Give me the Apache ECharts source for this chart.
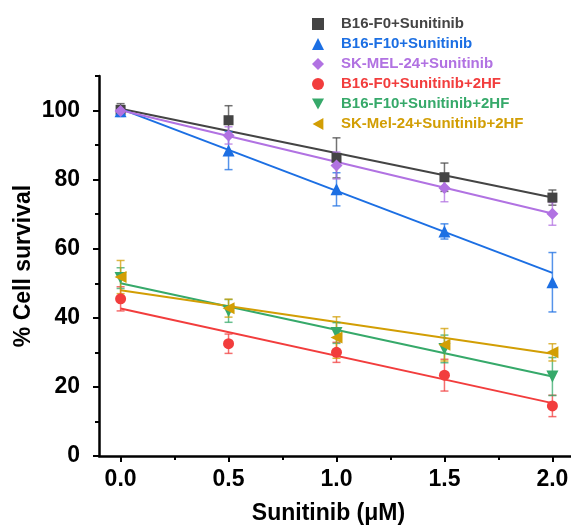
<!DOCTYPE html>
<html><head><meta charset="utf-8">
<script src="https://cdn.jsdelivr.net/npm/echarts@6/dist/echarts.min.js"></script>
<style>html,body{margin:0;padding:0;background:#fff}#c{width:571px;height:525px}</style>
</head><body><div id="c"></div>
<script>
const doses = [0, 0.5, 1.0, 1.5, 2.0];
const names = ['B16-F0+Sunitinib','B16-F10+Sunitinib','SK-MEL-24+Sunitinib','B16-F0+Sunitinib+2HF','B16-F10+Sunitinib+2HF','SK-Mel-24+Sunitinib+2HF'];
const mean1 = [100.2, 97.2, 86.3, 80.7, 74.8];
const err1  = [1.8, 4.2, 5.8, 4.1, 2.2];
const mean2 = [99.8, 88.4, 77.2, 65.0, 50.3];
const err2  = [1.5, 5.5, 4.8, 2.2, 8.6];
const mean3 = [99.9, 92.8, 84.1, 77.6, 70.1];
const err3  = [1.5, 2.5, 3.9, 4.0, 3.3];
const mean4 = [45.5, 32.5, 30.0, 23.4, 14.5];
const err4  = [3.5, 2.8, 2.9, 4.6, 3.1];
const mean5 = [51.5, 42.0, 35.6, 31.0, 23.0];
const err5  = [3.0, 3.3, 3.0, 4.0, 5.5];
const mean6 = [51.8, 42.8, 34.3, 32.2, 30.0];
const err6  = [4.8, 2.6, 6.0, 4.7, 2.5];
// fitted line values read at dose 0 and dose 2.0
const fit1 = [100.5, 74.8];
const fit2 = [100.5, 53.0];
const fit3 = [100.1, 70.2];
const fit4 = [42.7, 15.3];
const fit5 = [50.0, 23.0];
const fit6 = [48.0, 29.6];
const xTicks = [0, 0.5, 1.0, 1.5, 2.0];
const xMinorTicks = [0.25, 0.75, 1.25, 1.75];
const yTicks = [0, 20, 40, 60, 80, 100];
const yMinorTicks = [10, 30, 50, 70, 90, 110];

const means = [mean1, mean2, mean3, mean4, mean5, mean6];
const errs = [err1, err2, err3, err4, err5, err6];
const fits = [fit1, fit2, fit3, fit4, fit5, fit6];
const colors = ['#444444', '#1c6fe3', '#b172e2', '#f23d3d', '#36a96a', '#d29e04'];
const symbols = ['rect', 'triangle', 'diamond', 'circle', 'path://M0,0 L10,0 L5,9 Z', 'path://M9,0 L9,10 L0,5 Z'];
const sizes = [10, 12, 12, 11, 12, 12];

const font = '"Liberation Sans", Arial, sans-serif';
const series = [];
for (let i = 0; i < 6; i++) {
  series.push({
    type: 'line', name: names[i] + ' fit', xAxisIndex: 0, yAxisIndex: 0,
    data: [[doses[0], fits[i][0]], [doses[doses.length - 1], fits[i][1]]],
    symbol: 'none', lineStyle: { color: colors[i], width: 2 }, z: 2, silent: true
  });
  series.push({
    type: 'custom', name: names[i] + ' err', xAxisIndex: 0, yAxisIndex: 0,
    data: doses.map((d, k) => [d, means[i][k] - errs[i][k], means[i][k] + errs[i][k]]),
    encode: { x: 0, y: [1, 2] }, z: 3, silent: true,
    renderItem: (function (col) {
      return function (params, api) {
        const lo = api.coord([api.value(0), api.value(1)]);
        const hi = api.coord([api.value(0), api.value(2)]);
        const c = 4;
        const st = { stroke: col, lineWidth: 1.5, opacity: 0.75 };
        return { type: 'group', children: [
          { type: 'line', shape: { x1: lo[0], y1: lo[1], x2: hi[0], y2: hi[1] }, style: st },
          { type: 'line', shape: { x1: lo[0] - c, y1: lo[1], x2: lo[0] + c, y2: lo[1] }, style: st },
          { type: 'line', shape: { x1: hi[0] - c, y1: hi[1], x2: hi[0] + c, y2: hi[1] }, style: st }
        ]};
      };
    })(colors[i])
  });
  series.push({
    type: 'scatter', name: names[i], xAxisIndex: 0, yAxisIndex: 0,
    data: doses.map((d, k) => [d, means[i][k]]),
    symbol: symbols[i], symbolSize: sizes[i],
    itemStyle: { color: colors[i], opacity: 1 }, z: 4
  });
}

const chart = echarts.init(document.getElementById('c'), null, { renderer: 'canvas' });
chart.setOption({
  animation: false,
  backgroundColor: '#ffffff',
  grid: { left: 99, right: -3, top: 76, bottom: 69, containLabel: false, outerBoundsMode: 'none' },
  legend: {
    orient: 'vertical', left: 307, top: 11, itemWidth: 12, itemHeight: 12, itemGap: 4,
    data: names.map((n, i) => ({ name: n, icon: symbols[i], textStyle: { color: colors[i] } })),
    textStyle: { fontFamily: font, fontWeight: 'bold', fontSize: 15, lineHeight: 16, padding: [0, 0, 0, 12] },
    selectedMode: false
  },
  xAxis: [{
    type: 'value', min: -0.1, max: 2.1, position: 'bottom',
    name: 'Sunitinib (μM)', nameLocation: 'middle', nameGap: 46,
    nameTextStyle: { fontFamily: font, fontWeight: 'bold', fontSize: 23, color: '#000', padding: [0, 16, 0, 0] },
    axisLine: { show: true, onZero: false, lineStyle: { color: '#000', width: 2.5 } },
    axisTick: { show: true, length: 6, lineStyle: { color: '#000', width: 2 }, customValues: xTicks },
    axisLabel: { fontFamily: font, fontWeight: 'bold', fontSize: 23, color: '#000', margin: 12,
      customValues: xTicks, formatter: v => v.toFixed(1) },
    splitLine: { show: false }
  }, {
    type: 'value', min: -0.1, max: 2.1, position: 'bottom',
    axisLine: { show: false, onZero: false },
    axisTick: { show: true, length: 4, lineStyle: { color: '#000', width: 2 }, customValues: xMinorTicks },
    axisLabel: { show: false }, splitLine: { show: false }
  }],
  yAxis: [{
    type: 'value', min: 0, max: 110, position: 'left',
    name: '% Cell survival', nameLocation: 'middle', nameGap: 64, nameRotate: 90, nameMoveOverlap: false,
    nameTextStyle: { fontFamily: font, fontWeight: 'bold', fontSize: 23, color: '#000' },
    axisLine: { show: true, onZero: false, lineStyle: { color: '#000', width: 2.5 } },
    axisTick: { show: true, length: 6, lineStyle: { color: '#000', width: 2 }, customValues: yTicks },
    axisLabel: { fontFamily: font, fontWeight: 'bold', fontSize: 23, color: '#000', margin: 19,
      customValues: yTicks },
    splitLine: { show: false }
  }, {
    type: 'value', min: 0, max: 110, position: 'left', offset: 0,
    axisLine: { show: false, onZero: false },
    axisTick: { show: true, length: 4, lineStyle: { color: '#000', width: 2 }, customValues: yMinorTicks },
    axisLabel: { show: false }, splitLine: { show: false }
  }],
  series: series
});
</script></body></html>
